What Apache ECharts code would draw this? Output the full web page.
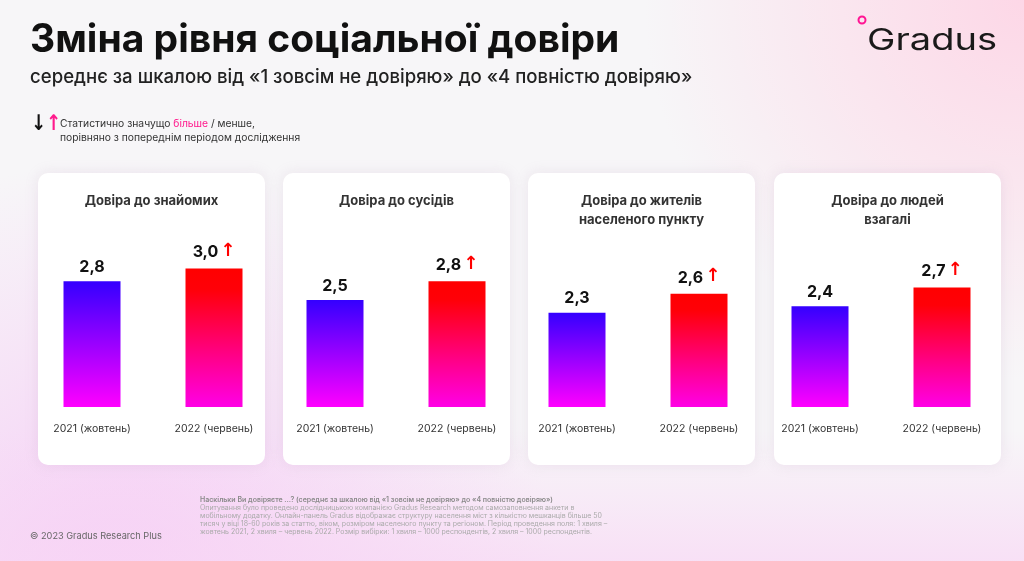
<!DOCTYPE html>
<html>
<head>
<meta charset="utf-8">
<script src="https://cdn.jsdelivr.net/npm/echarts@6/dist/echarts.min.js"></script>
<style>
  html, body { margin: 0; padding: 0; }
  #chart { width: 1024px; height: 561px; }
</style>
</head>
<body>
<div id="chart"></div>
<script>
// дані
const panelTitles = ['Довіра до знайомих', 'Довіра до сусідів', 'Довіра до жителів\nнаселеного пункту', 'Довіра до людей\nвзагалі']
const periods = ['2021 (жовтень)', '2022 (червень)']
const values2021 = [2.8, 2.5, 2.3, 2.4]
const values2022 = [3.0, 2.8, 2.6, 2.7]
const significantUp = [true, true, true, true]

const footNote = [
    'Наскільки Ви довіряєте ...? (середнє за шкалою від «1 зовсім не довіряю» до «4 повністю довіряю»)',
    'Опитування було проведено дослідницькою компанією Gradus Research методом самозаповнення анкети в',
    'мобільному додатку. Онлайн-панель Gradus відображає структуру населення міст з кількістю мешканців більше 50',
    'тисяч у віці 18-60 років за статтю, віком, розміром населеного пункту та регіоном. Період проведення поля: 1 хвиля –',
    'жовтень 2021, 2 хвиля – червень 2022. Розмір вибірки: 1 хвиля – 1000 респондентів, 2 хвиля – 1000 респондентів.'
]

const FONT = 'Inter, "Noto Sans", sans-serif'
const panelLeft = [38, 283, 528, 774]
const panelWidth = 227
const gridLeft = [31, 274, 516, 759]

const chart = echarts.init(document.getElementById('chart'))

function fmt(v) {
    return v.toFixed(1).replace('.', ',')
}

const blueGrad = new echarts.graphic.LinearGradient(0, 0, 0, 1, [
    { offset: 0, color: '#3400ff' },
    { offset: 0.5, color: '#9a00ff' },
    { offset: 1, color: '#ff00ff' }
])
const redGrad = new echarts.graphic.LinearGradient(0, 0, 0, 1, [
    { offset: 0, color: '#ff0000' },
    { offset: 0.15, color: '#ff0008' },
    { offset: 0.6, color: '#ff0080' },
    { offset: 1, color: '#ff00e6' }
])

const graphic = [
    // фон
    { type: 'rect', z: 0, shape: { x: 0, y: 0, width: 1024, height: 561 }, style: { fill: '#f7f6f8' } },
    {
        type: 'rect', z: 0, shape: { x: 0, y: 0, width: 1024, height: 561 },
        style: { fill: new echarts.graphic.RadialGradient(1024, 0, 380, [
            { offset: 0, color: 'rgba(255,205,225,0.75)' },
            { offset: 1, color: 'rgba(255,205,225,0)' }
        ], true) }
    },
    {
        type: 'rect', z: 0, shape: { x: 0, y: 0, width: 1024, height: 561 },
        style: { fill: new echarts.graphic.RadialGradient(120, 600, 440, [
            { offset: 0, color: 'rgba(245,195,245,0.85)' },
            { offset: 1, color: 'rgba(245,195,245,0)' }
        ], true) }
    },
    {
        type: 'rect', z: 0, shape: { x: 0, y: 430, width: 1024, height: 131 },
        style: { fill: new echarts.graphic.LinearGradient(0, 0, 0, 1, [
            { offset: 0, color: 'rgba(248,215,245,0)' },
            { offset: 1, color: 'rgba(248,215,245,0.7)' }
        ]) }
    },
    // заголовок
    {
        type: 'text', z: 5, left: 30, top: 21,
        style: { text: 'Зміна рівня соціальної довіри', font: 'bold 39px ' + FONT, fill: '#111' }
    },
    {
        type: 'text', z: 5, left: 30, top: 68,
        style: { text: 'середнє за шкалою від «1 зовсім не довіряю» до «4 повністю довіряю»', font: '500 18.6px ' + FONT, fill: '#222' }
    },
    // логотип
    {
        type: 'text', z: 5, x: 867, y: 26, scaleX: 1.27,
        style: { text: 'Gradus', font: '400 30px ' + FONT, fill: '#1a1a1a' }
    },
    {
        type: 'circle', z: 5, shape: { cx: 862, cy: 20, r: 3.5 },
        style: { fill: 'none', stroke: '#ff1493', lineWidth: 2 }
    },
    // легенда
    {
        type: 'text', z: 5, x: 31, y: 114, scaleY: 1.2,
        style: { text: '{d|↓}{u|↑}', rich: {
            d: { font: 'bold 18px "DejaVu Sans"', fill: '#111' },
            u: { font: 'bold 18px "DejaVu Sans"', fill: '#ff1a8c' }
        } }
    },
    {
        type: 'text', z: 5, x: 60, y: 117,
        style: {
            text: '{n|Статистично значущо }{p|більше}{n| / менше,}\n{n|порівняно з попереднім періодом дослідження}',
            rich: {
                n: { font: '10.3px ' + FONT, fill: '#333', lineHeight: 14 },
                p: { font: '10.3px ' + FONT, fill: '#ff1a8c', lineHeight: 14 }
            }
        }
    },
    // підвал
    {
        type: 'text', z: 5, x: 30, y: 532,
        style: { text: '© 2023 Gradus Research Plus', font: '9.2px ' + FONT, fill: '#666' }
    }
]

footNote.forEach((line, i) => {
    graphic.push({
        type: 'text', z: 5, x: 200, y: 496 + i * 8.1,
        style: { text: line, font: (i === 0 ? '600 ' : '') + '7px ' + FONT, fill: i === 0 ? '#8a8a8a' : '#aaaaaa' }
    })
})

panelTitles.forEach((t, i) => {
    graphic.push({
        type: 'rect', z: 1,
        shape: { x: panelLeft[i], y: 173, width: panelWidth, height: 292, r: 10 },
        style: { fill: '#ffffff', shadowBlur: 14, shadowColor: 'rgba(170,140,180,0.18)' }
    })
    graphic.push({
        type: 'text', z: 5, x: panelLeft[i] + panelWidth / 2, y: 192,
        style: { text: t, font: 'bold 13px ' + FONT, fill: '#333', align: 'center', lineHeight: 19 }
    })
})

const grids = []
const xAxes = []
const yAxes = []
const series = []

panelTitles.forEach((t, i) => {
    grids.push({ left: gridLeft[i], width: 244, top: 256, height: 151 })
    xAxes.push({
        type: 'category', gridIndex: i, data: periods, z: 10,
        axisLine: { show: false }, axisTick: { show: false },
        axisLabel: { color: '#333', fontSize: 10.5, fontFamily: FONT, margin: 16 }
    })
    yAxes.push({ type: 'value', gridIndex: i, min: 0.8, max: 3.2, show: false, splitLine: { show: false } })
    series.push({
        type: 'bar', xAxisIndex: i, yAxisIndex: i, barWidth: 57, z: 3,
        data: [
            { value: values2021[i], itemStyle: { color: blueGrad } },
            { value: values2022[i], itemStyle: { color: redGrad } }
        ],
        label: {
            show: true, position: 'top', distance: 6,
            formatter: p => p.dataIndex === 1 && significantUp[i]
                ? '{v|' + fmt(p.value) + '}{a|↑}'
                : '{v|' + fmt(p.value) + '}',
            rich: {
                v: { fontSize: 16, fontWeight: 'bold', fontFamily: FONT, color: '#111' },
                a: { fontSize: 18, fontWeight: 'bold', fontFamily: '"DejaVu Sans"', color: '#ff0000', padding: [0, 0, 2, 2] }
            }
        }
    })
})

chart.setOption({
    animation: false,
    backgroundColor: '#f7f6f8',
    graphic: graphic,
    grid: grids,
    xAxis: xAxes,
    yAxis: yAxes,
    series: series
})
</script>
</body>
</html>
